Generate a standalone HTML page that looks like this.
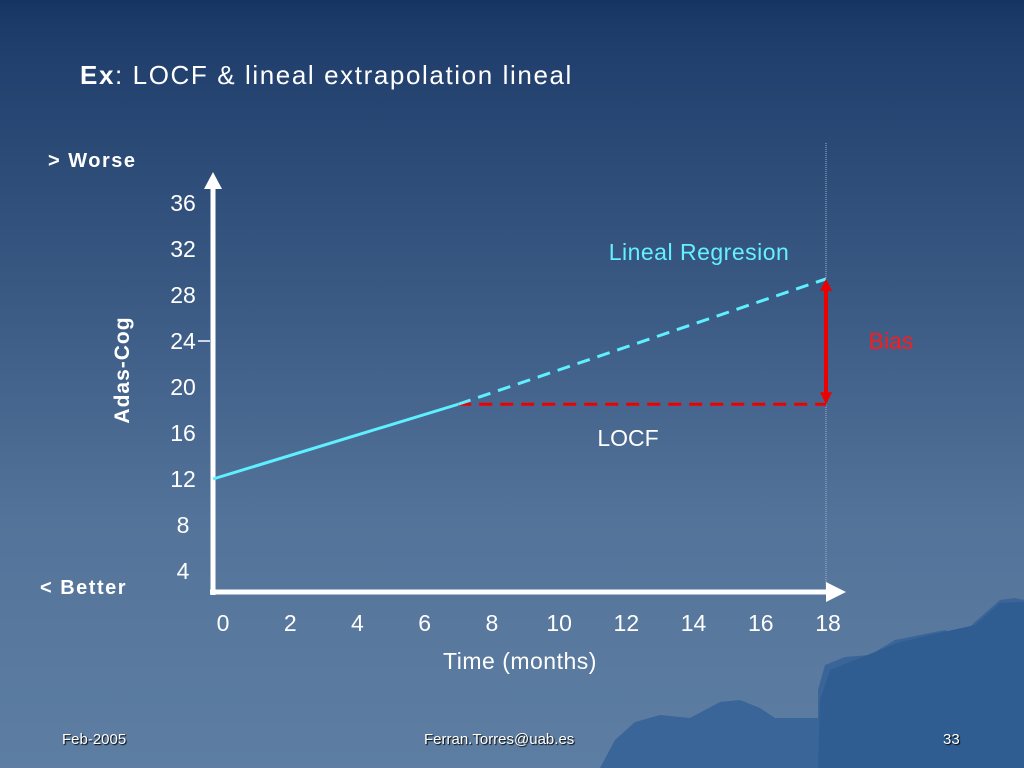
<!DOCTYPE html>
<html><head><meta charset="utf-8"><style>
html,body{margin:0;padding:0;width:1024px;height:768px;overflow:hidden}
body{background:linear-gradient(to bottom,#163462 0px,#1b3a68 20px,#22406d 60px,#3a5a84 300px,#54739a 520px,#5d7ea2 768px);font-family:"Liberation Sans",sans-serif;position:relative}
.t{position:absolute;color:#fff;white-space:nowrap}
</style></head><body>
<div class="t" style="left:80px;top:60px;font-size:26px;letter-spacing:1.6px"><b>Ex</b>: LOCF &amp; lineal extrapolation lineal</div>
<div class="t" style="left:48px;top:150px;font-size:20px;font-weight:bold;letter-spacing:1.5px">&gt; Worse</div>
<div class="t" style="left:40px;top:577px;font-size:20px;font-weight:bold;letter-spacing:1.5px">&lt; Better</div>
<svg id="chart" width="1024" height="768" style="position:absolute;left:0;top:0">
<g id="mtn">
<path d="M600,768 L615,740 L635,722 L660,715 L690,718 L720,702 L740,700 L760,708 L775,718 L818,718 L818,690 L825,665 L845,657 L870,655 L895,640 L920,635 L945,630 L960,637 L975,622 L1000,600 L1015,598 L1024,600 L1024,768 Z" fill="#3a6598"/>
<path d="M818,768 L820,700 L830,670 L860,658 L900,642 L930,635 L975,625 L1000,603 L1024,602 L1024,768 Z" fill="#2f5d92"/>
</g>
<line x1="826" y1="143" x2="826" y2="590" stroke="#9fb2c8" stroke-width="1" stroke-dasharray="1,1"/>
<text x="129" y="370" fill="#fff" font-size="21" font-weight="bold" letter-spacing="1" text-anchor="middle" transform="rotate(-90 129 370)">Adas-Cog</text>
<text x="520" y="669" fill="#fff" font-size="23" text-anchor="middle" letter-spacing="0.5">Time (months)</text>
<text x="699" y="260" fill="#66f0ff" font-size="23" text-anchor="middle" letter-spacing="0.5">Lineal Regresion</text>
<text x="628" y="446" fill="#fff" font-size="23" text-anchor="middle">LOCF</text>
<text x="891" y="349" fill="#ff1a1a" font-size="23" text-anchor="middle">Bias</text>
</svg>
<div class="t" style="left:62px;top:731px;font-size:15px;text-shadow:1px 1px 1px #000">Feb-2005</div>
<div class="t" style="left:424px;top:731px;font-size:15px;text-shadow:1px 1px 1px #000">Ferran.Torres@uab.es</div>
<div class="t" style="left:943px;top:731px;font-size:15px;text-shadow:1px 1px 1px #000">33</div>
<script>
const xTicks=[0,2,4,6,8,10,12,14,16,18];
const yTicks=[4,8,12,16,20,24,28,32,36];
const observedX=[0,7.2];
const observedY=[12,18.5];
const regressionX=[7.2,18];
const regressionY=[18.5,29.4];
const locfX=[7.2,18];
const locfY=[18.5,18.5];
const biasX=18;
const svg=document.getElementById('chart');
const NS='http://www.w3.org/2000/svg';
function sx(v){return 213+v*(826-213)/18;}
function lx(v){return 223+v*(828-223)/18;}
function sy(v){return 571-(v-4)*11.5;}
function mk(tag,attrs){const e=document.createElementNS(NS,tag);for(const k in attrs)e.setAttribute(k,attrs[k]);svg.appendChild(e);return e;}
let ya=mk('line',{x1:213,y1:186,x2:213,y2:595,stroke:'#fff','stroke-width':5});


let yh=mk('polygon',{points:'213,172 204,189 222,189',fill:'#fff'});


let xa=mk('line',{x1:210,y1:592,x2:832,y2:592,stroke:'#fff','stroke-width':5});


let xh=mk('polygon',{points:'846,592 826,582 826,602',fill:'#fff'});


let tk=mk('line',{x1:198,y1:sy(24),x2:210,y2:sy(24),stroke:'#fff','stroke-width':1.5});


xTicks.forEach(v=>{const t=mk('text',{x:lx(v),y:631,fill:'#fff','font-size':23,'text-anchor':'middle'});t.textContent=v;

});
yTicks.forEach(v=>{const t=mk('text',{x:183,y:sy(v)+8,fill:'#fff','font-size':23,'text-anchor':'middle'});t.textContent=v;

});
let ob=mk('line',{x1:sx(observedX[0]),y1:sy(observedY[0]),x2:sx(observedX[1]),y2:sy(observedY[1]),stroke:'#5ef0ff','stroke-width':3});


let lc=mk('line',{x1:sx(locfX[0]),y1:sy(locfY[0]),x2:sx(locfX[1]),y2:sy(locfY[1]),stroke:'#ee0000','stroke-width':3,'stroke-dasharray':'13,8'});


let rg=mk('line',{x1:sx(regressionX[0]),y1:sy(regressionY[0]),x2:sx(regressionX[1]),y2:sy(regressionY[1]),stroke:'#5ef0ff','stroke-width':3,'stroke-dasharray':'13,8'});


const bx=sx(biasX),bt=sy(regressionY[1]),bb=sy(locfY[1]);
let bl=mk('line',{x1:bx,y1:bt+8,x2:bx,y2:bb-8,stroke:'#ee0000','stroke-width':4});


let b1=mk('polygon',{points:`${bx},${bt} ${bx-6},${bt+12} ${bx+6},${bt+12}`,fill:'#ee0000'});


let b2=mk('polygon',{points:`${bx},${bb} ${bx-6},${bb-12} ${bx+6},${bb-12}`,fill:'#ee0000'});


</script>
</body></html>
